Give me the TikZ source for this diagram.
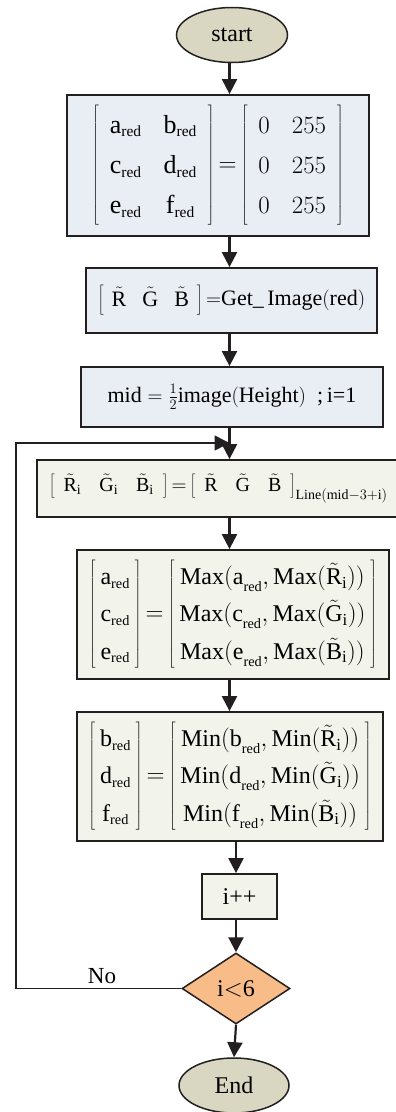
\documentclass[tikz,border=0pt]{standalone}
\usepackage{fontspec}
\usepackage{graphicx}
\setmainfont{Liberation Serif}
\usetikzlibrary{arrows.meta, positioning, shapes.geometric, calc}
\definecolor{termfill}{HTML}{D9D6C1}
\definecolor{bluefill}{HTML}{E9EDF4}
\definecolor{greenfill}{HTML}{F2F4EC}
\definecolor{decfill}{HTML}{F8BC89}
\definecolor{lineblk}{HTML}{231F20}
\newcommand{\rd}{_{\scalebox{0.85}{$\scriptstyle\mathrm{red}$}}}
\newcommand{\tl}[1]{\tilde{\mathrm{#1}}}
\tikzset{
    terminal/.style={
        ellipse, draw=lineblk, line width=1.5pt, fill=termfill,
        minimum width=111pt, minimum height=55pt, inner sep=0pt,
        font=\fontsize{24}{28}\selectfont
    },
    initbox/.style={
        rectangle, draw=lineblk, line width=1.8pt, fill=bluefill,
        inner sep=0pt
    },
    loopbox/.style={
        rectangle, draw=lineblk, line width=1.8pt, fill=greenfill,
        inner sep=0pt
    },
    decision/.style={
        diamond, draw=lineblk, line width=1.5pt, fill=decfill,
        minimum width=108pt, minimum height=71pt, inner sep=0pt,
        font=\fontsize{24}{28}\selectfont
    },
    arr/.style={-{Triangle[length=15pt,width=15pt]}, line width=2.2pt, draw=lineblk},
    back/.style={-{Triangle[length=15pt,width=15pt]}, line width=1.6pt, draw=lineblk},
    lbl/.style={font=\fontsize{23}{25}\selectfont, inner sep=0pt}
}

\begin{document}
\begin{tikzpicture}[x=1pt, y=1pt]
    \useasboundingbox (0,0) rectangle (396,-1112);

    % --- Initialisation ---
    \node[terminal] (start) at (232,-35) {start};
    \node[initbox, minimum width=302pt, minimum height=141pt,
          font=\fontsize{26}{31}\selectfont] (range) at (218,-165.5)
        {$\arraycolsep=11pt\renewcommand{\arraystretch}{1.3}
          \left[\begin{array}{cc}\mathrm{a}\rd & \mathrm{b}\rd\\ \mathrm{c}\rd & \mathrm{d}\rd\\ \mathrm{e}\rd & \mathrm{f}\rd\end{array}\right]
          {=}\left[\begin{array}{cc}0 & 255\\ 0 & 255\\ 0 & 255\end{array}\right]$};
    \node[initbox, minimum width=291pt, minimum height=65pt,
          font=\fontsize{22}{26}\selectfont] (getimg) at (231.5,-300.5)
        {$\arraycolsep=8pt\left[\begin{array}{ccc}\tl{R} & \tl{G} & \tl{B}\end{array}\right]{=}\mathrm{Get\_\,Image(red)}$};
    \node[initbox, minimum width=302pt, minimum height=60pt,
          font=\fontsize{22}{26}\selectfont] (mid) at (232,-397)
        {$\mathrm{mid}=\frac{1}{2}\mathrm{image(Height)}$\ \ ;\,i=1};

    % --- Loop body ---
    \node[loopbox, minimum width=363pt, minimum height=57pt,
          font=\fontsize{20}{24}\selectfont] (rows) at (218.5,-488.5)
        {$\arraycolsep=9pt\left[\begin{array}{ccc}\tl{R}_{\mathrm{i}} & \tl{G}_{\mathrm{i}} & \tl{B}_{\mathrm{i}}\end{array}\right]{=}\left[\begin{array}{ccc}\tl{R} & \tl{G} & \tl{B}\end{array}\right]_{\mathrm{Line(mid}-3+\mathrm{i)}}$};
    \node[loopbox, minimum width=312pt, minimum height=129pt,
          font=\fontsize{24}{29}\selectfont] (maxbox) at (233,-614.5)
        {$\renewcommand{\arraystretch}{1.28}
          \left[\begin{array}{c}\mathrm{a}\rd\\ \mathrm{c}\rd\\ \mathrm{e}\rd\end{array}\right]
          {=}\left[\begin{array}{c}\mathrm{Max(a}\rd,\mathrm{Max(}\tl{R}_{\mathrm{i}}))\\
            \mathrm{Max(c}\rd,\mathrm{Max(}\tl{G}_{\mathrm{i}}))\\
            \mathrm{Max(e}\rd,\mathrm{Max(}\tl{B}_{\mathrm{i}}))\end{array}\right]$};
    \node[loopbox, minimum width=306pt, minimum height=129pt,
          font=\fontsize{24}{29}\selectfont] (minbox) at (230,-776.5)
        {$\renewcommand{\arraystretch}{1.28}
          \left[\begin{array}{c}\mathrm{b}\rd\\ \mathrm{d}\rd\\ \mathrm{f}\rd\end{array}\right]
          {=}\left[\begin{array}{c}\mathrm{Min(b}\rd,\mathrm{Min(}\tl{R}_{\mathrm{i}}))\\
            \mathrm{Min(d}\rd,\mathrm{Min(}\tl{G}_{\mathrm{i}}))\\
            \mathrm{Min(f}\rd,\mathrm{Min(}\tl{B}_{\mathrm{i}}))\end{array}\right]$};
    \node[loopbox, minimum width=75pt, minimum height=45pt,
          font=\fontsize{24}{28}\selectfont] (incr) at (239.5,-896.5) {i++};

    % --- Test and end ---
    \node[decision] (cond) at (236,-988.5) {i$<$6};
    \node[terminal, minimum width=110pt] (stop) at (234,-1085.5) {End};

    % --- Spine arrows ---
    \coordinate (spine) at (229.5,0);
    \coordinate (spinelow) at (236,0);
    \draw[arr] (spine |- start.south) -- (spine |- range.north);
    \draw[arr] (spine |- range.south) -- (spine |- getimg.north);
    \draw[arr] (spine |- getimg.south) -- (spine |- mid.north);
    \draw[arr] (spine |- mid.south) -- (spine |- rows.north);
    \draw[arr] (spine |- rows.south) -- (spine |- maxbox.north);
    \draw[arr] (spine |- maxbox.south) -- (spine |- minbox.north);
    \draw[arr] (spinelow |- minbox.south) -- (spinelow |- incr.north);
    \draw[arr] (spinelow |- incr.south) -- (cond.north);
    \draw[arr] (cond.south) -- (stop.north);

    % --- Back edge ---
    \coordinate (loopx) at (16,-443);
    \draw[back] (cond.west) -| (loopx) -- (spine |- loopx);
    \node[lbl] (nolbl) at (102,-976) {No};

\end{tikzpicture}
\end{document}
